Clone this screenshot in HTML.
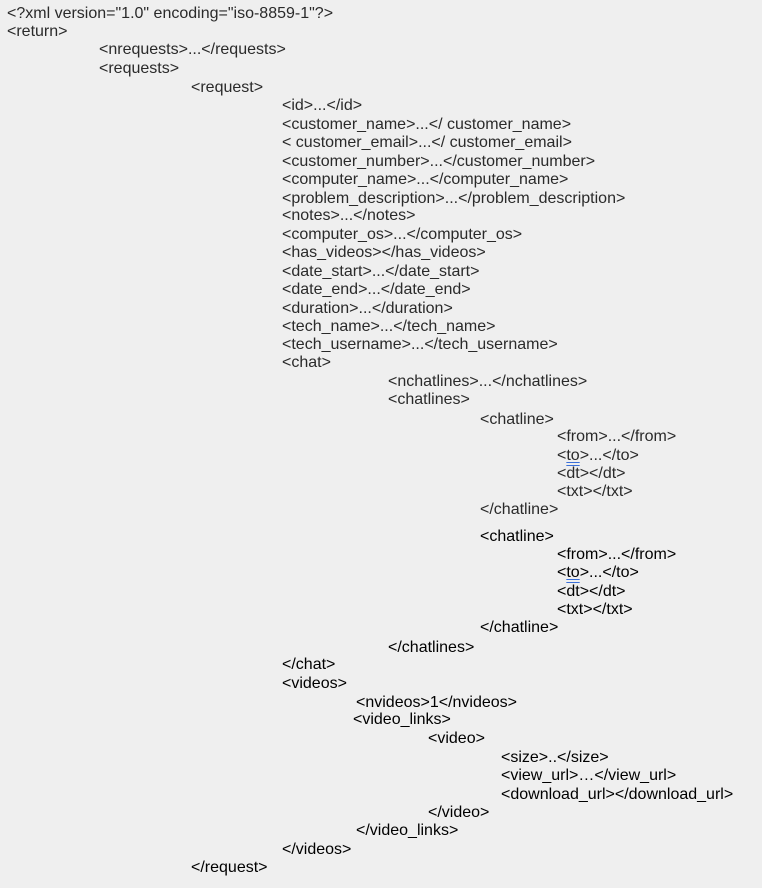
<!DOCTYPE html>
<html><head><meta charset="utf-8"><style>
html,body{margin:0;padding:0}
body{width:762px;height:888px;background:#efefef;position:relative;overflow:hidden;font-family:"Liberation Sans",Arial,sans-serif;font-size:16px;color:#2a2a2a}
div.l{position:absolute;white-space:pre;line-height:16px;margin-top:0px}
.k{color:#000}
u{text-decoration:underline double #3a6fd8;text-underline-offset:2px}
</style></head><body>
<div class="l" style="left:7px;top:6px">&lt;?xml version="1.0" encoding="iso-8859-1"?&gt;</div>
<div class="l" style="left:7px;top:24px">&lt;return&gt;</div>
<div class="l" style="left:99px;top:42px">&lt;nrequests&gt;...&lt;/requests&gt;</div>
<div class="l" style="left:99px;top:61px">&lt;requests&gt;</div>
<div class="l" style="left:191px;top:80px">&lt;request&gt;</div>
<div class="l" style="left:282px;top:98px">&lt;id&gt;...&lt;/id&gt;</div>
<div class="l" style="left:282px;top:117px">&lt;customer_name&gt;...&lt;/ customer_name&gt;</div>
<div class="l" style="left:282px;top:135px">&lt; customer_email&gt;...&lt;/ customer_email&gt;</div>
<div class="l" style="left:282px;top:154px">&lt;customer_number&gt;...&lt;/customer_number&gt;</div>
<div class="l" style="left:282px;top:172px">&lt;computer_name&gt;...&lt;/computer_name&gt;</div>
<div class="l" style="left:282px;top:191px">&lt;problem_description&gt;...&lt;/problem_description&gt;</div>
<div class="l" style="left:282px;top:208px">&lt;notes&gt;...&lt;/notes&gt;</div>
<div class="l" style="left:282px;top:227px">&lt;computer_os&gt;...&lt;/computer_os&gt;</div>
<div class="l" style="left:282px;top:245px">&lt;has_videos&gt;&lt;/has_videos&gt;</div>
<div class="l" style="left:282px;top:264px">&lt;date_start&gt;...&lt;/date_start&gt;</div>
<div class="l" style="left:282px;top:282px">&lt;date_end&gt;...&lt;/date_end&gt;</div>
<div class="l" style="left:282px;top:301px">&lt;duration&gt;...&lt;/duration&gt;</div>
<div class="l" style="left:282px;top:319px">&lt;tech_name&gt;...&lt;/tech_name&gt;</div>
<div class="l" style="left:282px;top:337px">&lt;tech_username&gt;...&lt;/tech_username&gt;</div>
<div class="l" style="left:282px;top:355px">&lt;chat&gt;</div>
<div class="l" style="left:388px;top:374px">&lt;nchatlines&gt;...&lt;/nchatlines&gt;</div>
<div class="l" style="left:388px;top:392px">&lt;chatlines&gt;</div>
<div class="l" style="left:480px;top:412px">&lt;chatline&gt;</div>
<div class="l" style="left:557px;top:429px">&lt;from&gt;...&lt;/from&gt;</div>
<div class="l" style="left:557px;top:448px">&lt;<u>to</u>&gt;...&lt;/to&gt;</div>
<div class="l" style="left:557px;top:466px">&lt;dt&gt;&lt;/dt&gt;</div>
<div class="l" style="left:557px;top:484px">&lt;txt&gt;&lt;/txt&gt;</div>
<div class="l" style="left:480px;top:502px">&lt;/chatline&gt;</div>
<div class="l k" style="left:480px;top:529px">&lt;chatline&gt;</div>
<div class="l k" style="left:557px;top:547px">&lt;from&gt;...&lt;/from&gt;</div>
<div class="l k" style="left:557px;top:565px">&lt;<u>to</u>&gt;...&lt;/to&gt;</div>
<div class="l k" style="left:557px;top:584px">&lt;dt&gt;&lt;/dt&gt;</div>
<div class="l k" style="left:557px;top:602px">&lt;txt&gt;&lt;/txt&gt;</div>
<div class="l k" style="left:480px;top:620px">&lt;/chatline&gt;</div>
<div class="l k" style="left:388px;top:640px">&lt;/chatlines&gt;</div>
<div class="l k" style="left:282px;top:657px">&lt;/chat&gt;</div>
<div class="l k" style="left:282px;top:676px">&lt;videos&gt;</div>
<div class="l k" style="left:356px;top:695px">&lt;nvideos&gt;1&lt;/nvideos&gt;</div>
<div class="l k" style="left:353px;top:712px">&lt;video_links&gt;</div>
<div class="l k" style="left:428px;top:731px">&lt;video&gt;</div>
<div class="l k" style="left:501px;top:750px">&lt;size&gt;..&lt;/size&gt;</div>
<div class="l k" style="left:501px;top:768px">&lt;view_url&gt;…&lt;/view_url&gt;</div>
<div class="l k" style="left:501px;top:787px">&lt;download_url&gt;&lt;/download_url&gt;</div>
<div class="l k" style="left:428px;top:805px">&lt;/video&gt;</div>
<div class="l k" style="left:356px;top:823px">&lt;/video_links&gt;</div>
<div class="l k" style="left:282px;top:842px">&lt;/videos&gt;</div>
<div class="l k" style="left:191px;top:860px">&lt;/request&gt;</div>
</body></html>
